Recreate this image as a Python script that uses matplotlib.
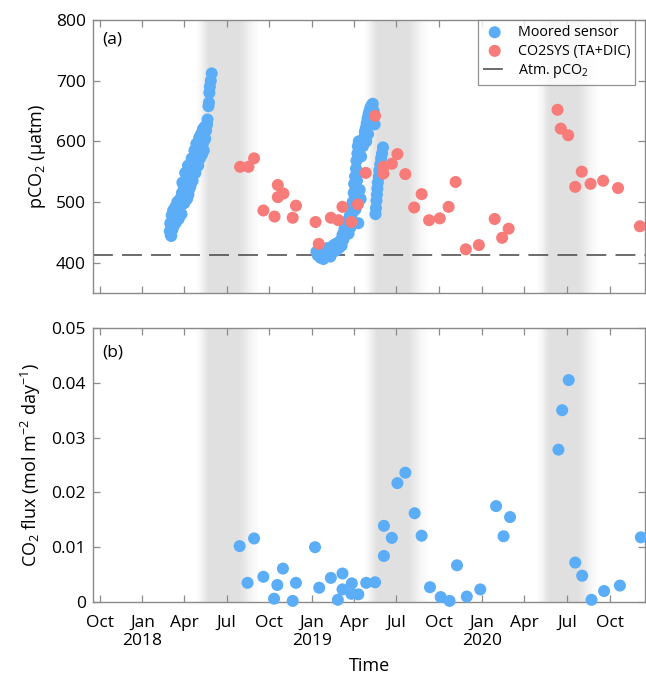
import numpy as np
import matplotlib
matplotlib.use('Agg')
import matplotlib.pyplot as plt
import matplotlib.dates as mdates

plt.rcParams['font.family'] = ['Open Sans', 'DejaVu Sans']
plt.rcParams['mathtext.fontset'] = 'custom'
plt.rcParams['mathtext.rm'] = 'Open Sans'
plt.rcParams['mathtext.it'] = 'Open Sans'

# moored sensor pCO2 (uatm)
sensor_dates = [
    "2018-03-01", "2018-03-02", "2018-03-03", "2018-03-05", "2018-03-06", "2018-03-08", "2018-03-09",
    "2018-03-11", "2018-03-13", "2018-03-15", "2018-03-17", "2018-03-19", "2018-03-21", "2018-03-23",
    "2018-03-25", "2018-03-27", "2018-03-29", "2018-03-31", "2018-04-02", "2018-04-04", "2018-04-06",
    "2018-04-08", "2018-04-10", "2018-04-12", "2018-04-14", "2018-04-16", "2018-04-18", "2018-04-20",
    "2018-04-22", "2018-04-24", "2018-04-26", "2018-04-28", "2018-04-30", "2018-05-02", "2018-05-04",
    "2018-05-06", "2018-05-08", "2018-05-10", "2018-05-12", "2018-05-14", "2018-05-16", "2018-05-18",
    "2018-05-20", "2018-05-21", "2018-05-23", "2018-05-24", "2018-05-25", "2018-05-26", "2018-05-28",
    "2018-05-30",
    "2018-03-04", "2018-03-07", "2018-03-10", "2018-03-12", "2018-03-14", "2018-03-20", "2018-03-26",
    "2018-04-01", "2018-04-07", "2018-04-11", "2018-04-15", "2018-04-19", "2018-04-25", "2018-05-01",
    "2018-05-05", "2018-05-09", "2018-05-13", "2018-04-09", "2018-04-03", "2018-03-28", "2018-04-17",
    "2018-04-23", "2018-04-27", "2018-05-03", "2018-05-07", "2018-05-11", "2018-05-15",
    "2019-01-10", "2019-01-13", "2019-01-16", "2019-01-19", "2019-01-22", "2019-01-25", "2019-01-28",
    "2019-01-31", "2019-02-03", "2019-02-06", "2019-02-09", "2019-02-12", "2019-02-15", "2019-02-18",
    "2019-02-21", "2019-02-24", "2019-02-27", "2019-03-02", "2019-03-05", "2019-03-07", "2019-03-09",
    "2019-03-11", "2019-03-13", "2019-03-15", "2019-03-17", "2019-03-19", "2019-03-21", "2019-03-23",
    "2019-03-25", "2019-03-27", "2019-03-29", "2019-03-30", "2019-03-31", "2019-04-01", "2019-04-02",
    "2019-04-03", "2019-04-04", "2019-04-05", "2019-04-06", "2019-04-07", "2019-04-08", "2019-04-09",
    "2019-04-10", "2019-04-11", "2019-04-12", "2019-04-14", "2019-04-16", "2019-04-18", "2019-04-20",
    "2019-04-22", "2019-04-24", "2019-04-26", "2019-04-28", "2019-04-30", "2019-05-02", "2019-05-04",
    "2019-05-06", "2019-05-09", "2019-05-11", "2019-05-13", "2019-05-15",
    "2019-03-20", "2019-03-24", "2019-03-28", "2019-04-04", "2019-04-13", "2019-04-15", "2019-04-27",
    "2019-05-01",
    "2019-05-17", "2019-05-18", "2019-05-19", "2019-05-20", "2019-05-21", "2019-05-22", "2019-05-24",
    "2019-05-25", "2019-05-27", "2019-05-29", "2019-05-31", "2019-06-02",
]
sensor_pco2 = [
    452, 465, 446, 478, 458, 486, 470,
    482, 492, 476, 500, 488, 478, 505,
    494, 515, 500, 526, 510, 535, 520,
    544, 512, 548, 525, 556, 545, 566,
    555, 574, 562, 584, 572, 592, 580,
    600, 590, 606, 598, 612, 604, 618,
    628, 636, 658, 664, 680, 690, 700,
    712,
    444, 455, 462, 470, 466, 472, 480,
    498, 505, 520, 530, 535, 548, 560,
    572, 578, 585, 560, 548, 532, 572,
    585, 596, 606, 612, 620, 624,
    418, 412, 422, 408, 414, 406, 420,
    412, 424, 416, 410, 426, 418, 430,
    420, 432, 424, 436, 428, 446, 438,
    455, 446, 462, 452, 470, 460, 478,
    468, 490, 500, 484, 515, 530, 498,
    542, 520, 555, 568, 535, 580, 592,
    465, 600, 548, 590, 575, 598, 592,
    606, 616, 622, 630, 638, 645, 650,
    656, 660, 662, 650, 628,
    448, 458, 470, 488, 520, 505, 600,
    612,
    480, 490, 502, 512, 522, 532, 542,
    552, 562, 572, 580, 590,
]

# CO2SYS (TA+DIC) pCO2
co2sys_dates = [
    "2018-07-30", "2018-08-17", "2018-08-29", "2018-09-18", "2018-10-12", "2018-10-19", "2018-10-19",
    "2018-10-31", "2018-11-20", "2018-11-27", "2019-01-08", "2019-01-15", "2019-02-10", "2019-02-26",
    "2019-03-07", "2019-03-26", "2019-04-09", "2019-04-26", "2019-05-16", "2019-06-03", "2019-06-03",
    "2019-06-21", "2019-07-03", "2019-07-20", "2019-08-08", "2019-08-24", "2019-09-09", "2019-10-02",
    "2019-10-21", "2019-11-05", "2019-11-27", "2019-12-25", "2020-01-28", "2020-02-13", "2020-02-27",
    "2020-06-11", "2020-06-18", "2020-07-04", "2020-07-19", "2020-08-02", "2020-08-21", "2020-09-17",
    "2020-10-19", "2020-12-05",
]
co2sys_pco2 = [
    558, 558, 572, 486, 476, 528, 508,
    514, 474, 494, 467, 431, 474, 470,
    492, 467, 496, 548, 642, 547, 558,
    563, 579, 546, 491, 513, 470, 473,
    492, 533, 422, 429, 472, 441, 456,
    652, 621, 610, 525, 550, 530, 535,
    523, 460,
]

atm_pco2 = 413

# CO2 flux (mol m-2 day-1)
flux_dates = [
    "2018-07-29", "2018-08-15", "2018-08-29", "2018-09-18", "2018-10-11", "2018-10-18", "2018-10-30",
    "2018-11-20", "2018-11-27", "2019-01-07", "2019-01-16", "2019-02-10", "2019-02-25", "2019-03-07",
    "2019-03-07", "2019-03-27", "2019-03-26", "2019-04-10", "2019-04-27", "2019-05-16", "2019-06-04",
    "2019-06-04", "2019-06-21", "2019-07-03", "2019-07-20", "2019-08-09", "2019-08-24", "2019-09-11",
    "2019-10-04", "2019-10-23", "2019-11-08", "2019-11-29", "2019-12-28", "2020-01-31", "2020-02-16",
    "2020-03-01", "2020-06-13", "2020-06-21", "2020-07-05", "2020-07-19", "2020-08-03", "2020-08-23",
    "2020-09-19", "2020-10-23", "2020-12-07",
]
flux_vals = [
    0.0102, 0.0035, 0.0116, 0.0046, 0.0006, 0.0031, 0.0061,
    0.0002, 0.0035, 0.0100, 0.0026, 0.0044, 0.0004, 0.0052,
    0.0023, 0.0034, 0.0015, 0.0014, 0.0035, 0.0036, 0.0084,
    0.0139, 0.0117, 0.0217, 0.0236, 0.0162, 0.0121, 0.0027,
    0.0009, 0.0002, 0.0067, 0.0010, 0.0023, 0.0175, 0.0120,
    0.0155, 0.0278, 0.0350, 0.0405, 0.0072, 0.0048, 0.0004,
    0.0020, 0.0030, 0.0118,
]

# shaded summer periods
band_starts = ["2018-04-28", "2019-04-24", "2020-05-01"]
band_ends = ["2018-09-05", "2019-09-04", "2020-09-04"]

blue = '#5aadf6'
red = '#f67b79'
spine_col = '#8a8a8a'

xmin = np.datetime64("2017-09-17")
xmax = np.datetime64("2020-12-16")

fig = plt.figure(figsize=(6.46, 6.79), dpi=100)
ax1 = fig.add_axes([0.144, 0.5685, 0.8545, 0.402])
ax2 = fig.add_axes([0.144, 0.1134, 0.8545, 0.4035])

# grey gradient band image
t = np.linspace(0, 1, 200)
prof = np.clip(np.minimum(t / 0.22, (1 - t) / 0.35), 0, 1)
prof = prof * prof * (3 - 2 * prof)
prof = 0.12 + 0.88 * prof
rgba = np.zeros((1, len(t), 4))
rgba[..., :3] = 0.88
rgba[..., 3] = prof


def shade(ax, ylo, yhi):
    for s, e in zip(band_starts, band_ends):
        x0 = mdates.date2num(np.datetime64(s))
        x1 = mdates.date2num(np.datetime64(e))
        ax.imshow(rgba, extent=[x0, x1, ylo, yhi], aspect='auto', zorder=0,
                  interpolation='bilinear')


def style(ax):
    ax.set_xlim(xmin, xmax)
    for sp in ax.spines.values():
        sp.set_color(spine_col)
        sp.set_linewidth(1.0)
    ax.tick_params(direction='in', top=True, right=True, length=5, width=0.9,
                   color=spine_col, labelsize=12.5, pad=5)
    ax.tick_params(axis='x', pad=9)
    ax.xaxis.set_major_locator(mdates.MonthLocator(bymonth=[1, 4, 7, 10]))


# panel (a)
shade(ax1, 350, 800)
ax1.scatter(np.array(sensor_dates, dtype='datetime64[D]'), sensor_pco2, s=75, color=blue,
            edgecolors='none', zorder=3, label='Moored sensor')
ax1.scatter(np.array(co2sys_dates, dtype='datetime64[D]'), co2sys_pco2, s=75, color=red,
            edgecolors='none', zorder=4, label='CO2SYS (TA+DIC)')
ax1.axhline(atm_pco2, color='#444444', lw=1.1, ls=(0, (13, 6)), zorder=2,
            label='Atm. pCO$_2$')
ax1.set_ylim(350, 800)
ax1.set_yticks([400, 500, 600, 700, 800])
style(ax1)
ax1.set_xticklabels([])
ax1.set_ylabel('pCO$_2$ (µatm)', fontsize=13, labelpad=6)
ax1.text(0.016, 0.927, '(a)', transform=ax1.transAxes, fontsize=12.5, va='center')
leg = ax1.legend(loc='upper right', bbox_to_anchor=(0.982, 1.0), borderaxespad=0,
                 fontsize=10.3, frameon=True, fancybox=False, handlelength=1.6,
                 handletextpad=0.8, borderpad=0.35, labelspacing=0.25)
leg.get_frame().set_edgecolor('#777777')
leg.get_frame().set_linewidth(0.9)

# panel (b)
shade(ax2, 0, 0.05)
ax2.scatter(np.array(flux_dates, dtype='datetime64[D]'), flux_vals, s=75, color=blue,
            edgecolors='none', zorder=3, clip_on=False)
ax2.set_ylim(0, 0.05)
ax2.set_yticks([0, 0.01, 0.02, 0.03, 0.04, 0.05])
ax2.set_yticklabels(['0', '0.01', '0.02', '0.03', '0.04', '0.05'])
style(ax2)


def fmt(x, pos=None):
    d = mdates.num2date(x)
    lab = d.strftime('%b')
    if d.month == 1:
        return lab + '\n' + str(d.year)
    return lab + '\n '


ax2.xaxis.set_major_formatter(plt.FuncFormatter(fmt))
ax2.set_ylabel('CO$_2$ flux (mol m$^{-2}$ day$^{-1}$)', fontsize=13, labelpad=6)
ax2.set_xlabel('Time', fontsize=13, labelpad=6)
ax2.text(0.016, 0.909, '(b)', transform=ax2.transAxes, fontsize=12.5, va='center')

fig.savefig('out.png', dpi=100)
